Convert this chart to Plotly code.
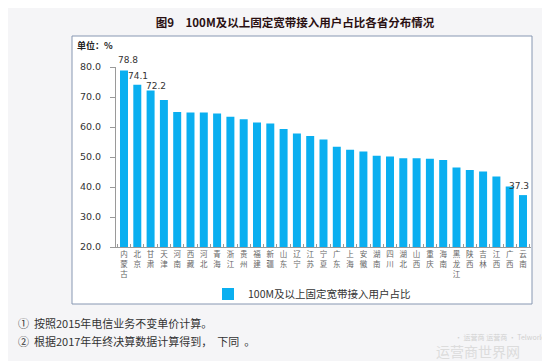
import plotly.graph_objects as go

provinces = ["内蒙古", "北京", "甘肃", "天津", "河南", "西藏", "河北", "青海", "浙江", "贵州",
             "福建", "新疆", "山东", "辽宁", "江苏", "宁夏", "广东", "上海", "安徽", "湖南",
             "四川", "湖北", "山西", "重庆", "海南", "黑龙江", "陕西", "吉林", "江西", "广西", "云南"]
values = [78.8, 74.1, 72.2, 69.0, 65.0, 64.8, 64.8, 64.5, 63.4, 62.6,
          61.5, 61.2, 59.3, 57.8, 57.0, 55.8, 53.4, 52.4, 51.8, 50.4,
          50.2, 49.6, 49.6, 49.4, 49.0, 46.5, 45.7, 45.2, 43.5, 40.2, 37.3]
labeled = ["内蒙古", "北京", "甘肃", "云南"]
y_ticks = [20, 30, 40, 50, 60, 70, 80]
series_name = "100M及以上固定宽带接入用户占比"
title_text = "图9　100M及以上固定宽带接入用户占比各省分布情况"
notes = ["①  按照2015年电信业务不变单价计算。", "②  根据2017年年终决算数据计算得到，  下同  。"]

# label placement offsets (style only), in pixels
label_shift = {"内蒙古": (4, 11), "北京": (1, 9), "甘肃": (5, 4), "云南": (-4, 9)}

W, H = 550, 361
L, R, T, B = 108, 27, 59, 122
pw, ph = W - L - R, H - T - B

def px(x):
    return (x - L) / pw

def py(y):
    return (H - B - y) / ph

cjk = "Noto Sans CJK SC"
tick_text = ["<br>".join(list(p)) for p in provinces]

fig = go.Figure()
fig.add_trace(go.Bar(
    x=provinces, y=values, name=series_name,
    marker=dict(color="#0aaff0", line=dict(width=0)),
))

for p, v in zip(provinces, values):
    if p in labeled:
        dx, dy = label_shift[p]
        fig.add_annotation(x=p, y=v, text=f"{v:.1f}", showarrow=False,
                           xanchor="center", yanchor="middle", xshift=dx, yshift=dy,
                           font=dict(family="DejaVu Sans", size=9, color="#333333"))

fig.update_layout(
    width=W, height=H,
    margin=dict(l=L, r=R, t=T, b=B),
    paper_bgcolor="#f5f5f7", plot_bgcolor="#ffffff",
    bargap=0.4,
    showlegend=True,
    legend=dict(orientation="h", x=px(304), y=py(286), xanchor="center", yanchor="middle",
                font=dict(family=cjk, size=10.5, color="#333333"), bgcolor="rgba(0,0,0,0)",
                itemwidth=30),
    title=dict(text="<b>" + title_text + "</b>", x=287 / W, y=1 - 15 / H,
               xref="container", yref="container", xanchor="center", yanchor="middle",
               font=dict(family=cjk, size=11.5, color="#2a1012")),
    xaxis=dict(tickmode="array", tickvals=provinces, ticktext=tick_text,
               tickangle=0, tickfont=dict(family=cjk, size=7.5, color="#666666"),
               showline=True, linecolor="#9a9a9a", linewidth=1,
               ticks="inside", tickson="boundaries", ticklen=3, tickcolor="#9a9a9a",
               showgrid=False, fixedrange=True),
    yaxis=dict(range=[20, 80], tickmode="array", tickvals=y_ticks,
               ticktext=[f"{v:.1f}" for v in y_ticks],
               tickfont=dict(family="DejaVu Sans", size=9.5, color="#333333"),
               showline=True, linecolor="#9a9a9a", linewidth=1,
               ticks="outside", ticklen=5, tickcolor="#9a9a9a", ticklabelstandoff=7,
               showgrid=False, zeroline=False, fixedrange=True),
)

fig.add_shape(type="rect", xref="paper", yref="paper",
              x0=px(64), x1=px(524), y0=py(296), y1=py(28),
              line=dict(color="#8797b2", width=1), fillcolor="#ffffff", layer="below")

fig.add_annotation(text="<b>单位：%</b>", xref="paper", yref="paper", x=px(67), y=py(37),
                   xanchor="left", yanchor="middle", showarrow=False,
                   font=dict(family=cjk, size=9, color="#222222"))

for i, note in enumerate(notes):
    fig.add_annotation(text=note, xref="paper", yref="paper", x=px(8), y=py(315 + 18 * i),
                       xanchor="left", yanchor="middle", showarrow=False,
                       font=dict(family=cjk, size=11, color="#333333"))

fig.add_annotation(text="· 运营商 运营商 · Telworld", xref="paper", yref="paper", x=px(540), y=py(329),
                   xanchor="right", yanchor="middle", showarrow=False,
                   font=dict(family=cjk, size=7, color="#d0d0d0"))
fig.add_annotation(text="运营商世界网", xref="paper", yref="paper", x=px(514), y=py(343),
                   xanchor="right", yanchor="middle", showarrow=False,
                   font=dict(family=cjk, size=14, color="#dcdcdc"))

fig.write_html("out.html")
